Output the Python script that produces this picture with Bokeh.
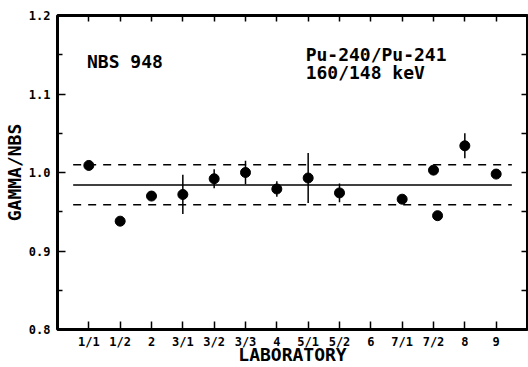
from bokeh.plotting import figure
from bokeh.models import LinearAxis, FixedTicker, Label, ColumnDataSource, NumeralTickFormatter
from bokeh.embed import file_html
from bokeh.resources import INLINE

# ---- data ----
lab_labels = ["1/1", "1/2", "2", "3/1", "3/2", "3/3", "4", "5/1", "5/2", "6", "7/1", "7/2", "8", "9"]
lab_ticks = list(range(1, len(lab_labels) + 1))
point_x = [1, 2, 3, 4, 5, 6, 7, 8, 9, 11, 12, 12.13, 13, 14]
ratio = [1.009, 0.938, 0.970, 0.972, 0.992, 1.000, 0.979, 0.993, 0.974, 0.966, 1.003, 0.945, 1.034, 0.998]
ratio_err = [0, 0, 0, 0.025, 0.012, 0.015, 0.010, 0.032, 0.012, 0, 0.006, 0, 0.016, 0]
mean_value = 0.984
band_upper = 1.010
band_lower = 0.959
line_x = [0.5, 14.5]
y_ticks = [0.8, 0.9, 1.0, 1.1, 1.2]
y_minor = [0.85, 0.95, 1.05, 1.15]
right_ticks = [0.85, 0.9, 0.95, 1.0, 1.05, 1.1, 1.15]

FONT = "DejaVu Sans Mono"

src = ColumnDataSource(dict(
    x=point_x, y=ratio,
    lo=[v - e for v, e in zip(ratio, ratio_err)],
    hi=[v + e for v, e in zip(ratio, ratio_err)],
))

p = figure(width=528, height=367, x_range=(0, 15), y_range=(0.8, 1.2),
           output_backend="svg", toolbar_location=None,
           x_axis_location=None, y_axis_location=None,
           min_border_left=57, min_border_right=1, min_border_top=15, min_border_bottom=36)
p.background_fill_color = "white"
p.border_fill_color = "white"
p.outline_line_color = "black"
p.outline_line_width = 3
p.grid.visible = False

# bottom axis
xb = LinearAxis(ticker=FixedTicker(ticks=lab_ticks))
xb.major_label_overrides = {t: l for t, l in zip(lab_ticks, lab_labels)}
xb.axis_label = "LABORATORY"
xb.axis_line_color = None
xb.major_tick_in = 8
xb.major_tick_out = 0
xb.major_tick_line_width = 1.5
xb.minor_tick_line_color = None
xb.major_label_standoff = 5
xb.axis_label_standoff = -8
xb.major_label_text_font = FONT
xb.major_label_text_font_style = "bold"
xb.major_label_text_font_size = "12px"
xb.major_label_text_color = "black"
xb.axis_label_text_font = FONT
xb.axis_label_text_font_style = "bold"
xb.axis_label_text_font_size = "18px"
xb.axis_label_text_color = "black"
p.add_layout(xb, "below")

# top axis
xt = LinearAxis(ticker=FixedTicker(ticks=lab_ticks))
xt.axis_line_color = None
xt.major_tick_in = 6
xt.major_tick_out = 0
xt.major_tick_line_width = 1.5
xt.minor_tick_line_color = None
xt.major_label_standoff = 0
xt.major_label_text_font_size = "0px"
xt.major_label_text_color = None
p.add_layout(xt, "above")

# left axis
yl = LinearAxis(ticker=FixedTicker(ticks=y_ticks, minor_ticks=y_minor))
yl.formatter = NumeralTickFormatter(format="0.0")
yl.axis_label = "GAMMA/NBS"
yl.axis_line_color = None
yl.major_tick_in = 8
yl.major_tick_out = 0
yl.minor_tick_in = 5
yl.minor_tick_out = 0
yl.major_tick_line_width = 1.5
yl.minor_tick_line_width = 1.5
yl.major_label_standoff = 7
yl.axis_label_standoff = 1
yl.major_label_text_font = FONT
yl.major_label_text_font_style = "bold"
yl.major_label_text_font_size = "12px"
yl.major_label_text_color = "black"
yl.axis_label_text_font = FONT
yl.axis_label_text_font_style = "bold"
yl.axis_label_text_font_size = "18px"
yl.axis_label_text_color = "black"
p.add_layout(yl, "left")

# right axis
yr = LinearAxis(ticker=FixedTicker(ticks=right_ticks))
yr.axis_line_color = None
yr.major_tick_in = 6
yr.major_tick_out = 0
yr.major_tick_line_width = 1.5
yr.minor_tick_line_color = None
yr.major_label_standoff = 0
yr.major_label_text_font_size = "0px"
yr.major_label_text_color = None
p.add_layout(yr, "right")

# reference lines
p.line(line_x, [mean_value, mean_value], line_color="black", line_width=1.5)
p.line(line_x, [band_upper, band_upper], line_color="black", line_width=1.5, line_dash="8 7")
p.line(line_x, [band_lower, band_lower], line_color="black", line_width=1.5, line_dash="8 7")

# error bars and points
p.segment(x0="x", y0="lo", x1="x", y1="hi", source=src, line_color="black", line_width=1.5)
p.scatter(x="x", y="y", source=src, size=10, marker="circle",
          fill_color="black", line_color="black")

# annotations
p.add_layout(Label(x=0.94, y=1.141, text="NBS 948", text_font=FONT, text_font_style="bold",
                   text_font_size="18px", text_baseline="middle", text_color="black"))
p.add_layout(Label(x=7.92, y=1.150, text="Pu-240/Pu-241", text_font=FONT, text_font_style="bold",
                   text_font_size="18px", text_baseline="middle", text_color="black"))
p.add_layout(Label(x=7.92, y=1.127, text="160/148 keV", text_font=FONT, text_font_style="bold",
                   text_font_size="18px", text_baseline="middle", text_color="black"))

open("out.html", "w").write(file_html(p, INLINE))
